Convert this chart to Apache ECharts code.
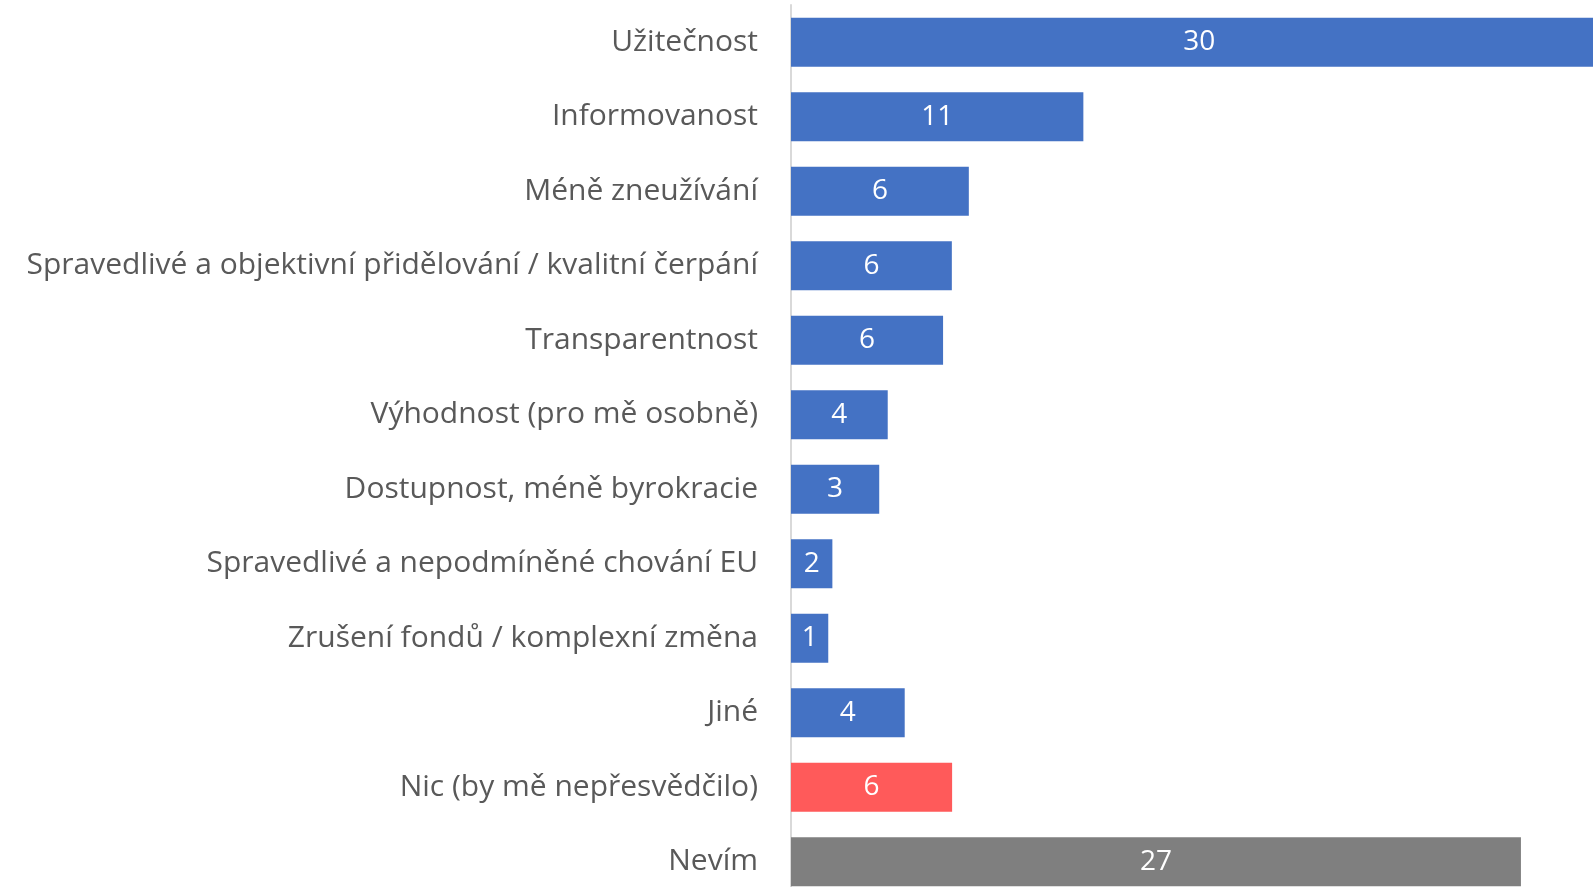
<!DOCTYPE html>
<html>
<head>
<meta charset="utf-8">
<script src="https://cdn.jsdelivr.net/npm/echarts@6/dist/echarts.min.js"></script>
<style>
  html, body { margin: 0; padding: 0; background: #fff; overflow: hidden; }
  #chart { width: 1593px; height: 899px; }
</style>
</head>
<body>
<div id="chart"></div>
<script>
// kategorie (shora dolů)
var categories = [
  'Užitečnost',
  'Informovanost',
  'Méně zneužívání',
  'Spravedlivé a objektivní přidělování / kvalitní čerpání',
  'Transparentnost',
  'Výhodnost (pro mě osobně)',
  'Dostupnost, méně byrokracie',
  'Spravedlivé a nepodmíněné chování EU',
  'Zrušení fondů / komplexní změna',
  'Jiné',
  'Nic (by mě nepřesvědčilo)',
  'Nevím'
];
// hodnoty odečtené z délky pruhů
var values = [29.8, 10.67, 6.49, 5.87, 5.55, 3.53, 3.22, 1.51, 1.36, 4.15, 5.88, 26.64];
// viditelný konec osy (první pruh přesahuje okraj)
var axisMax = 29.27;

var chart = echarts.init(document.getElementById('chart'));

var option = {
  animation: false,
  grid: {
    left: 791,
    right: 0,
    top: 5,
    bottom: 0,
    containLabel: false
  },
  xAxis: {
    type: 'value',
    min: 0,
    max: axisMax,
    show: false
  },
  yAxis: {
    type: 'category',
    inverse: true,
    data: categories,
    axisLine: { show: true, lineStyle: { color: '#d9d9d9', width: 2 } },
    axisTick: { show: false },
    axisLabel: {
      margin: 33,
      color: '#595959',
      fontSize: 30,
      fontFamily: 'Open Sans',
      padding: [5, 0, 0, 0]
    }
  },
  series: [
    {
      type: 'bar',
      data: values,
      barCategoryGap: '34%',
      clip: false,
      itemStyle: {
        color: function (p) {
          if (p.name === 'Nevím') return '#7f7f7f';
          if (p.name === 'Nic (by mě nepřesvědčilo)') return '#ff5a5a';
          return '#4472c4';
        }
      },
      label: {
        show: true,
        position: 'inside',
        color: '#fff',
        fontSize: 28,
        fontFamily: 'Open Sans',
        padding: [5, 0, 0, 0],
        formatter: function (p) { return Math.round(p.value); }
      }
    }
  ]
};
chart.setOption(option);
</script>
</body>
</html>
